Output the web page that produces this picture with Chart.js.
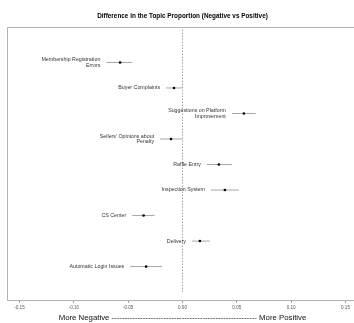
<!DOCTYPE html>
<html>
<head>
<meta charset="utf-8">
<script src="https://cdn.jsdelivr.net/npm/chart.js@4/dist/chart.umd.min.js"></script>
<style>
  html, body { margin: 0; padding: 0; background: #fff; overflow: hidden; }
  #wrap { width: 354px; height: 323px; overflow: hidden; }
</style>
</head>
<body>
<div id="wrap"><canvas id="topic-chart" width="362" height="323"></canvas></div>
<script>
// topics, top to bottom
const topics = [
  'Membership Registration\nErrors',
  'Buyer Complaints',
  'Suggestions on Platform\nImprovement',
  "Sellers' Opinions about\nPenalty",
  'Raffle Entry',
  'Inspection System',
  'CS Center',
  'Delivery',
  'Automatic Login Issues'
];
const estimates = [-0.0574, -0.0078, 0.0565, -0.0106, 0.0335, 0.0390, -0.0358, 0.0160, -0.0335];
const lowerCI   = [-0.0701, -0.0151, 0.0454, -0.0206, 0.0224, 0.0261, -0.0463, 0.0087, -0.0481];
const upperCI   = [-0.0463, -0.0005, 0.0674, -0.0005, 0.0454, 0.0518, -0.0257, 0.0252, -0.0188];
const rowPos    = [9, 8, 7, 6, 5, 4, 3, 2, 1];
const xTicks    = [-0.15, -0.10, -0.05, 0.00, 0.05, 0.10, 0.15];

const chartTitle = 'Difference in the Topic Proportion (Negative vs Positive)';
const axisTitle = 'More Negative ' + '-'.repeat(56) + ' More Positive';

const datasets = [];

// pontos
datasets.push({
  data: topics.map((t, i) => ({ x: estimates[i], y: rowPos[i] })),
  pointRadius: 1.3,
  pointBackgroundColor: '#000',
  pointBorderWidth: 0,
  showLine: false
});

// barras de erro
topics.forEach((t, i) => {
  datasets.push({
    data: [{ x: lowerCI[i], y: rowPos[i] }, { x: upperCI[i], y: rowPos[i] }],
    showLine: true,
    borderColor: '#a6a6a6',
    borderWidth: 1,
    pointRadius: 0
  });
});

// linha do zero
datasets.push({
  data: [{ x: 0, y: 0 }, { x: 0, y: 10.4 }],
  showLine: true,
  borderColor: '#8a8a8a',
  borderWidth: 0.8,
  borderDash: [1.5, 1.5],
  pointRadius: 0
});

const boxAndLabels = {
  id: 'boxAndLabels',
  afterDatasetsDraw(chart) {
    const { ctx, chartArea, scales } = chart;
    ctx.save();
    ctx.strokeStyle = '#b4b4b4';
    ctx.lineWidth = 1;
    ctx.strokeRect(chartArea.left + 0.5, chartArea.top + 0.5,
                   chartArea.right - chartArea.left, chartArea.bottom - chartArea.top);

    ctx.fillStyle = '#333';
    ctx.font = '5.3px "Liberation Sans", Arial, sans-serif';
    ctx.textAlign = 'right';
    ctx.textBaseline = 'middle';
    topics.forEach((t, i) => {
      const lines = t.split('\n');
      const x = scales.x.getPixelForValue(lowerCI[i]) - 6;
      const y = scales.y.getPixelForValue(rowPos[i]);
      const lh = 5.7;
      lines.forEach((line, k) => {
        ctx.fillText(line, x, y + (k - (lines.length - 1) / 2) * lh);
      });
    });

    ctx.fillStyle = '#000';
    ctx.font = 'bold 6.4px "Liberation Sans", Arial, sans-serif';
    ctx.textAlign = 'center';
    ctx.fillText(chartTitle, (chartArea.left + chartArea.right) / 2, 16);
    ctx.restore();
  }
};

new Chart(document.getElementById('topic-chart'), {
  type: 'scatter',
  data: { datasets: datasets },
  options: {
    responsive: false,
    animation: false,
    layout: { padding: { left: 7, right: 2, top: 27, bottom: 0 } },
    plugins: {
      legend: { display: false },
      tooltip: { enabled: false }
    },
    scales: {
      x: {
        type: 'linear',
        min: -0.1615,
        max: 0.1615,
        afterBuildTicks: (scale) => { scale.ticks = xTicks.map(v => ({ value: v })); },
        afterFit: (scale) => { scale.height = 23; },
        grid: { display: true, drawOnChartArea: false, drawTicks: true, tickLength: 3, color: '#a0a0a0' },
        border: { display: true, color: '#b4b4b4' },
        ticks: {
          padding: 2.2,
          color: '#555',
          font: { size: 4.6, family: '"Liberation Sans", Arial, sans-serif' },
          maxRotation: 0,
          callback: (v) => Number(v).toFixed(2)
        },
        title: {
          display: true,
          text: axisTitle,
          color: '#111',
          padding: { top: 2, bottom: 0 },
          font: { size: 7.8, family: '"Liberation Sans", Arial, sans-serif' }
        }
      },
      y: {
        type: 'linear',
        display: false,
        min: -0.31,
        max: 10.39
      }
    }
  },
  plugins: [boxAndLabels]
});
</script>
</body>
</html>
